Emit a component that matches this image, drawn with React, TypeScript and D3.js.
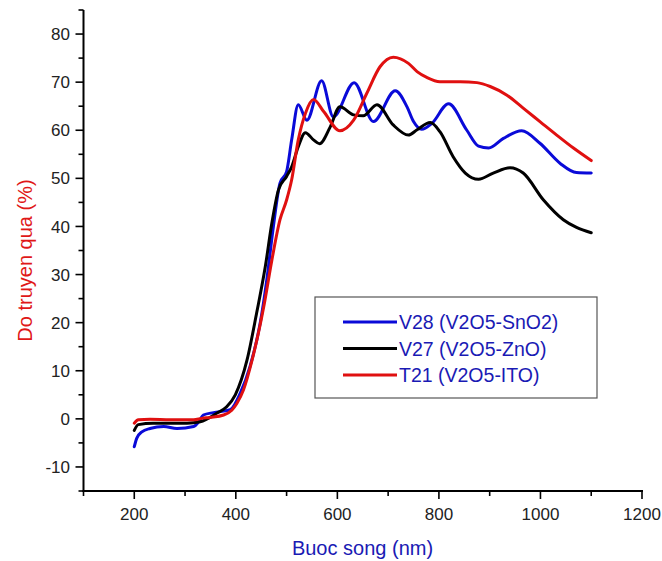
import React from "react";
import * as d3 from "d3";

const blueX = [200, 205, 215, 231, 258, 284, 317, 327, 336, 356, 389, 409, 428, 448, 461, 474, 487, 500, 510, 523, 540, 569, 592, 633, 671, 714, 737, 750, 766, 786, 819, 855, 878, 898, 927, 963, 999, 1039, 1071, 1100];
const blueY = [-5.8, -4, -2.7, -2, -1.6, -2, -1.6, -0.6, 0.8, 1.3, 1.9, 5.4, 10.9, 19.9, 28.9, 40, 49, 51.4, 58, 65.3, 62.1, 70.3, 62.8, 69.9, 61.8, 68.2, 64.9, 61.8, 60.2, 61.4, 65.5, 60, 56.7, 56.3, 58.3, 59.9, 57.3, 53.1, 51.2, 51.1];

const blackX = [200, 208, 237, 304, 330, 363, 382, 399, 422, 441, 458, 471, 484, 500, 510, 523, 537, 553, 565, 586, 605, 632, 651, 678, 710, 740, 757, 783, 802, 828, 852, 878, 907, 940, 966, 1006, 1045, 1071, 1100];
const blackY = [-2.4, -1.2, -0.9, -0.9, -0.6, 1.2, 2.5, 5, 12.2, 22, 31.6, 40.7, 47.6, 50.4, 52.4, 56.6, 59.5, 58, 57.2, 60.7, 64.9, 63.2, 63, 65.3, 61.1, 59, 60.1, 61.6, 59.7, 54.5, 51.1, 49.8, 51.1, 52.2, 51.1, 45.5, 41.4, 39.8, 38.7];

const redX = [200, 208, 231, 271, 317, 333, 350, 376, 392, 402, 415, 432, 455, 471, 487, 500, 510, 523, 537, 553, 573, 605, 632, 658, 684, 710, 740, 757, 776, 802, 842, 875, 901, 934, 966, 999, 1032, 1065, 1100];
const redY = [-0.9, -0.2, -0.1, -0.2, -0.2, 0.1, 0.3, 0.8, 1.8, 3.2, 6, 12.2, 23.3, 33, 41.4, 45.5, 49.7, 58, 63.5, 66.4, 63.9, 59.9, 62.1, 67.7, 73.2, 75.2, 73.9, 72.2, 71, 70.1, 70.1, 69.9, 69.1, 67.3, 64.6, 61.8, 59, 56.3, 53.7];

const seriesNames = ["V28 (V2O5-SnO2)", "V27 (V2O5-ZnO)", "T21 (V2O5-ITO)"];
const seriesColors = ["#0a0ad8", "#000000", "#e01010"];

const xMajor = [200, 400, 600, 800, 1000, 1200];
const xMinor = [100, 300, 500, 700, 900, 1100];
const yMajor = [-10, 0, 10, 20, 30, 40, 50, 60, 70, 80];
const yMinor = [-15, -5, 5, 15, 25, 35, 45, 55, 65, 75, 85];

const xTitle = "Buoc song (nm)";
const yTitle = "Do truyen qua (%)";

export default function App() {
  const W = 662, H = 561;
  const x = d3.scaleLinear().domain([100, 1200]).range([83.5, 642]);
  const y = d3.scaleLinear().domain([-15, 85]).range([491, 10]);
  const line = d3
    .line<[number, number]>()
    .x((d) => x(d[0]))
    .y((d) => y(d[1]))
    .curve(d3.curveMonotoneX);
  const series = [
    blueX.map((v, i) => [v, blueY[i]] as [number, number]),
    blackX.map((v, i) => [v, blackY[i]] as [number, number]),
    redX.map((v, i) => [v, redY[i]] as [number, number]),
  ];
  const font = "Liberation Sans, Arial, sans-serif";
  const x0 = x(100), y0 = y(-15);
  return (
    <svg width={W} height={H} style={{ position: "absolute", left: 0, top: 0, background: "#fff" }} fontFamily={font}>
      {/* curves */}
      {series.map((s, i) => (
        <path key={i} d={line(s) || ""} fill="none" stroke={seriesColors[i]} strokeWidth={3} strokeLinejoin="round" strokeLinecap="round" />
      ))}
      {/* axes */}
      <line x1={x0} x2={x0} y1={y(85)} y2={y0 + 1} stroke="#000" strokeWidth={2} />
      <line x1={x0 - 1} x2={x(1200) + 1} y1={y0} y2={y0} stroke="#000" strokeWidth={2} />
      {yMajor.map((v) => (
        <g key={"ym" + v}>
          <line x1={x0 - 8} x2={x0} y1={y(v)} y2={y(v)} stroke="#000" strokeWidth={1.6} />
          <text x={70} y={y(v)} dy="0.36em" textAnchor="end" fontSize={17} fill="#222">{v}</text>
        </g>
      ))}
      {yMinor.map((v) => (
        <line key={"yn" + v} x1={x0 - 5} x2={x0} y1={y(v)} y2={y(v)} stroke="#000" strokeWidth={1.6} />
      ))}
      {xMajor.map((v) => (
        <g key={"xm" + v}>
          <line x1={x(v)} x2={x(v)} y1={y0} y2={y0 + 8} stroke="#000" strokeWidth={1.6} />
          <text x={x(v)} y={520} textAnchor="middle" fontSize={17} fill="#222">{v}</text>
        </g>
      ))}
      {xMinor.map((v) => (
        <line key={"xn" + v} x1={x(v)} x2={x(v)} y1={y0} y2={y0 + 5} stroke="#000" strokeWidth={1.6} />
      ))}
      {/* titles */}
      <text x={362.5} y={555} textAnchor="middle" fontSize={20} fill="#1a1ab4">{xTitle}</text>
      <text transform={`translate(32,260.5) rotate(-90)`} textAnchor="middle" fontSize={20} fill="#e01818">{yTitle}</text>
      {/* legend */}
      <rect x={315} y={297} width={282} height={101} fill="#fff" stroke="#555" strokeWidth={1.2} />
      {seriesNames.map((n, i) => (
        <g key={n}>
          <line x1={343} x2={397} y1={322 + i * 26.5} y2={322 + i * 26.5} stroke={seriesColors[i]} strokeWidth={3} />
          <text x={399} y={322 + i * 26.5} dy="0.36em" fontSize={19.5} fill="#1a1ab4">{n}</text>
        </g>
      ))}
    </svg>
  );
}
